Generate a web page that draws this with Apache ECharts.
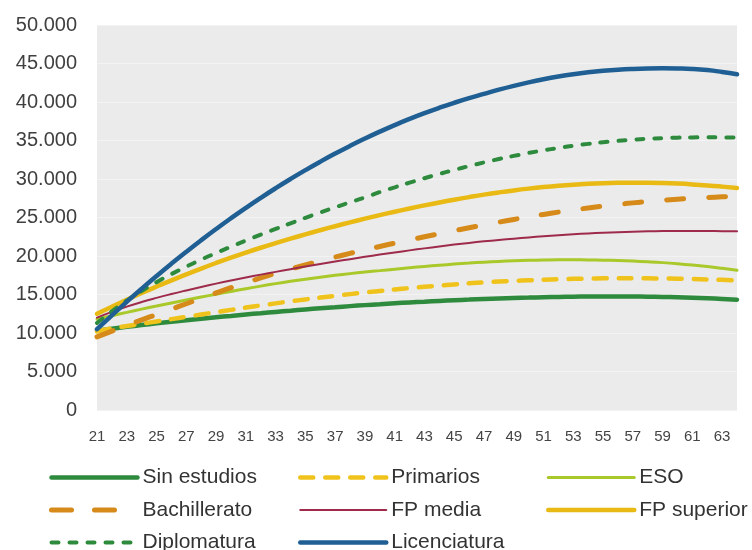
<!DOCTYPE html>
<html>
<head>
<meta charset="utf-8">
<script src="https://cdn.jsdelivr.net/npm/echarts@6/dist/echarts.min.js"></script>
<style>
  html, body { margin: 0; padding: 0; background: #fff; }
  #chart { width: 752px; height: 550px; }
</style>
</head>
<body>
<div id="chart"></div>
<script>
(function () {

  'use strict';

  // edades 21..64
  var ages = [];
  for (var a = 21; a <= 64; a++) { ages.push(String(a)); }

  var yTicks = [0, 5000, 10000, 15000, 20000, 25000, 30000, 35000, 40000, 45000, 50000];

  var sinEstudios = [10300, 10560, 10800, 11030, 11250, 11460, 11660, 11850, 12040, 12220,
    12400, 12570, 12740, 12900, 13060, 13210, 13350, 13490, 13620, 13740,
    13860, 13970, 14070, 14170, 14260, 14340, 14420, 14490, 14550, 14600,
    14650, 14690, 14720, 14740, 14750, 14750, 14740, 14720, 14690, 14650,
    14590, 14520, 14430, 14330];

  var primarios = [10200, 10600, 10900, 11200, 11500, 11800, 12100, 12400, 12700, 13000,
    13300, 13580, 13850, 14110, 14360, 14600, 14830, 15050, 15260, 15460,
    15650, 15830, 16000, 16160, 16310, 16450, 16570, 16680, 16770, 16850,
    16920, 16980, 17030, 17070, 17100, 17110, 17110, 17100, 17080, 17050,
    17010, 16960, 16900, 16840];

  var eso = [11800, 12250, 12680, 13100, 13500, 13900, 14290, 14670, 15040, 15400,
    15750, 16090, 16410, 16710, 16990, 17250, 17490, 17710, 17910, 18100,
    18290, 18470, 18640, 18800, 18950, 19080, 19200, 19300, 19380, 19440,
    19480, 19500, 19500, 19490, 19460, 19410, 19340, 19250, 19140, 19000,
    18830, 18630, 18400, 18150];

  var bachillerato = [9500, 10250, 10980, 11700, 12400, 13100, 13800, 14500, 15200, 15880,
    16530, 17150, 17740, 18300, 18840, 19360, 19860, 20340, 20800, 21240,
    21670, 22090, 22500, 22900, 23290, 23670, 24040, 24400, 24750, 25080,
    25400, 25700, 25980, 26240, 26480, 26700, 26900, 27080, 27240, 27380,
    27500, 27600, 27680, 27750];

  var fpMedia = [12000, 12750, 13420, 14020, 14560, 15060, 15530, 15980, 16410, 16820,
    17210, 17580, 17940, 18290, 18630, 18960, 19280, 19590, 19890, 20180,
    20460, 20730, 20990, 21240, 21480, 21700, 21900, 22080, 22250, 22410,
    22560, 22700, 22820, 22930, 23020, 23100, 23160, 23210, 23240, 23260,
    23260, 23250, 23230, 23200];

  var fpSuperior = [12500, 13420, 14320, 15190, 16030, 16840, 17620, 18370, 19090, 19780,
    20440, 21070, 21670, 22250, 22810, 23350, 23870, 24370, 24850, 25310,
    25750, 26170, 26570, 26950, 27310, 27650, 27970, 28260, 28520, 28750,
    28950, 29120, 29260, 29370, 29450, 29500, 29520, 29510, 29470, 29400,
    29300, 29170, 29010, 28830];

  var diplomatura = [11300, 12800, 14200, 15450, 16600, 17650, 18620, 19530, 20390, 21210,
    22000, 22770, 23520, 24250, 24960, 25650, 26320, 26970, 27600, 28300,
    28920, 29520, 30100, 30650, 31180, 31680, 32150, 32590, 33000, 33380,
    33720, 34030, 34310, 34560, 34770, 34950, 35100, 35220, 35310, 35370,
    35400, 35410, 35400, 35380];

  var licenciatura = [10500, 12300, 14050, 15750, 17400, 19000, 20550, 22050, 23500, 24900,
    26250, 27550, 28800, 30000, 31150, 32250, 33300, 34300, 35250, 36150,
    37000, 37800, 38550, 39250, 39900, 40500, 41050, 41600, 42100, 42550,
    42950, 43300, 43600, 43850, 44050, 44200, 44300, 44360, 44380, 44360,
    44300, 44150, 43900, 43600];

  function fmt(v) {
    return String(v).replace(/\B(?=(\d{3})+(?!\d))/g, '.');
  }

  // color, width, dash (serie), dash (leyenda)
  var styles = {
    'Sin estudios': ['#2e8b3e', 4.5, 'solid'],
    'Primarios': ['#efc31c', 4.5, [13, 12]],
    'ESO': ['#a9c92a', 3, 'solid'],
    'Bachillerato': ['#d68a1a', 5, [17, 25], [20, 23]],
    'FP media': ['#9e2b4b', 2, 'solid'],
    'FP superior': ['#e9b914', 4.5, 'solid'],
    'Diplomatura': ['#2e8b3e', 4, [7, 11]],
    'Licenciatura': ['#1f5f93', 4.5, 'solid']
  };

  function lineStyleOf(name, forLegend) {
    var s = styles[name];
    var dash = (forLegend && s[3]) ? s[3] : s[2];
    return { color: s[0], width: s[1], type: dash, cap: 'round' };
  }

  function line(name, data) {
    return {
      name: name,
      type: 'line',
      data: data,
      smooth: true,
      symbol: 'none',
      lineStyle: lineStyleOf(name),
      itemStyle: { color: styles[name][0] }
    };
  }

  var font = 'Liberation Sans, Arial, sans-serif';

  function legend(left, names) {
    return {
      orient: 'vertical',
      left: left,
      top: 467,
      height: 120,
      padding: 0,
      itemWidth: 86,
      itemHeight: 20,
      itemGap: 11.5,
      itemStyle: { opacity: 0 },
      data: names.map(function (n) {
        return { name: n, lineStyle: lineStyleOf(n, true) };
      }),
      textStyle: { fontFamily: font, fontSize: 21, color: '#333' }
    };
  }

  var chart = echarts.init(document.getElementById('chart'));

  var option = {
    animation: false,
    grid: {
      left: 97, right: 15, top: 25, bottom: 140,
      show: true, backgroundColor: '#ebebeb', borderWidth: 0
    },
    legend: [
      legend(49, ['Sin estudios', 'Bachillerato', 'Diplomatura']),
      legend(298, ['Primarios', 'FP media', 'Licenciatura']),
      legend(546, ['ESO', 'FP superior'])
    ],
    xAxis: {
      type: 'category',
      data: ages,
      boundaryGap: false,
      axisLine: { show: false },
      axisTick: { show: false },
      axisLabel: {
        interval: 1, margin: 19,
        fontFamily: font, fontSize: 15, color: '#444'
      }
    },
    yAxis: {
      type: 'value',
      min: yTicks[0],
      max: yTicks[yTicks.length - 1],
      interval: 5000,
      axisLine: { show: false },
      axisTick: { show: false },
      splitLine: { lineStyle: { color: '#f3f3f3', width: 1 } },
      axisLabel: {
        margin: 20,
        fontFamily: font, fontSize: 20, color: '#404040',
        formatter: function (v) { return fmt(v); }
      }
    },
    series: [
      line('Sin estudios', sinEstudios),
      line('Primarios', primarios),
      line('ESO', eso),
      line('Bachillerato', bachillerato),
      line('FP media', fpMedia),
      line('FP superior', fpSuperior),
      line('Diplomatura', diplomatura),
      line('Licenciatura', licenciatura)
    ]
  };

  chart.setOption(option);

})();
</script>
</body>
</html>
